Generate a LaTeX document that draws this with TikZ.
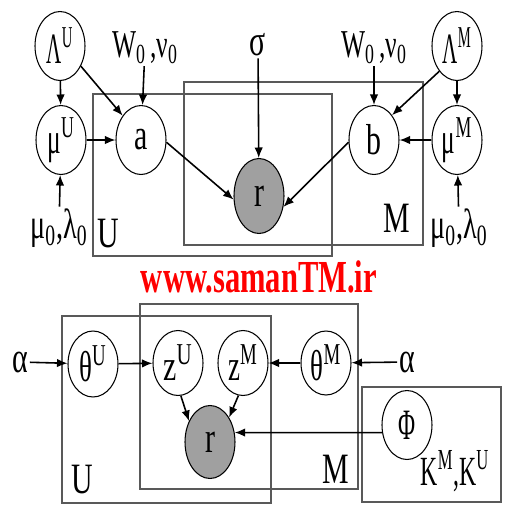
\documentclass[tikz,border=0pt]{standalone}
\usepackage{fontspec}
\setmainfont{Liberation Serif}
\usetikzlibrary{shapes.geometric,arrows.meta,calc}
\definecolor{obsgray}{RGB}{160,160,160}
\newcommand{\stx}[2][1]{\scalebox{#1}[1.45]{#2}}
\newcommand{\stxx}[3]{\scalebox{#1}[#2]{#3}}
\begin{document}
\begin{tikzpicture}[x=0.02cm,y=-0.02cm,
  var/.style={ellipse,draw=black,line width=0.6pt,fill=white,minimum width=10mm,minimum height=13.8mm,inner sep=0pt,font=\fontsize{17}{20}\selectfont},
  obs/.style={var,fill=obsgray,minimum height=15mm},
  lbl/.style={inner sep=1pt,font=\fontsize{17}{20}\selectfont},
  plate/.style={draw=black!65,line width=0.8pt},
  arr/.style={-{Latex[length=2.1mm,width=1.7mm]},line width=0.9pt}]
\useasboundingbox (0,0) rectangle (512,512);
% plates top
\draw[plate] (93,94) rectangle (332,256);
\draw[plate] (184,82) rectangle (423,245);
% plates bottom
\draw[plate] (62,316) rectangle (271,503);
\draw[plate] (140,304) rectangle (358,489);
\draw[plate] (362,387) rectangle (501,502);
% top nodes
\node[var] (LU) at (60,46) {\stxx{0.7}{1.45}{Λ\textsuperscript{U}}};
\node[var] (muU) at (61,140) {\stxx{0.85}{1.45}{μ\textsuperscript{U}}};
\node[var] (a) at (141,140) {\stx{a}};
\node[obs] (rt) at (259,196) {\stx{r}};
\node[var] (b) at (374,140) {\stx{b}};
\node[var] (LM) at (457,46) {\stxx{0.7}{1.45}{Λ\textsuperscript{M}}};
\node[var] (muM) at (457,140) {\stxx{0.85}{1.45}{μ\textsuperscript{M}}};
\node[lbl,font=\fontsize{14.5}{18}\selectfont] (wu) at (145,48) {\stxx{1}{1.55}{W\textsubscript{0}\,,ν\textsubscript{0}}};
\node[lbl,font=\fontsize{14.5}{18}\selectfont] (wm) at (374,48) {\stxx{1}{1.55}{W\textsubscript{0}\,,ν\textsubscript{0}}};
\node[lbl] (sig) at (258,45) {\stx{σ}};
\node[lbl,font=\fontsize{16}{19}\selectfont] (mlU) at (59,228) {\stxx{1}{1.5}{μ\textsubscript{0},λ\textsubscript{0}}};
\node[lbl,font=\fontsize{16}{19}\selectfont] (mlM) at (459,228) {\stxx{1}{1.5}{μ\textsubscript{0},λ\textsubscript{0}}};
\node[lbl] (UT) at (108,234) {\stx{U}};
\node[lbl] (MT) at (397,218) {\stx{M}};
% watermark
\node[inner sep=0pt,text=red,font=\fontsize{17.4}{20}\selectfont\bfseries] (wmk) at (259,277) {\scalebox{1}[1.5]{www.samanTM.ir}};
% bottom nodes
\node[lbl] (aL) at (20,362) {\stx{α}};
\node[var,minimum height=13.2mm] (thU) at (93,364) {\stxx{0.9}{1.45}{θ\textsuperscript{U}}};
\node[var,minimum height=13mm] (zU) at (178,363) {\stx{z\textsuperscript{U}}};
\node[var,minimum height=13mm] (zM) at (243,363) {\stxx{0.9}{1.45}{z\textsuperscript{M}}};
\node[obs,minimum height=14.6mm] (rb) at (210,442) {\stx{r}};
\node[var,minimum height=12.8mm] (thM) at (326,363) {\stxx{0.9}{1.45}{θ\textsuperscript{M}}};
\node[lbl] (aR) at (407,362) {\stx{α}};
\node[var] (phi) at (407,425) {\stxx{0.78}{1.45}{Φ}};
\node[lbl] (UB) at (82,480) {\stx{U}};
\node[lbl] (MB) at (336,469) {\stx{M}};
\node[lbl,font=\fontsize{13.5}{17}\selectfont] (KK) at (455,471) {\stxx{1}{1.75}{K\textsuperscript{M},K\textsuperscript{U}}};
% top arrows
\draw[arr] (LU) -- (muU);
\draw[arr] (LU.-44) -- (a.127);
\draw[arr] (muU) -- (a);
\draw[arr] (wu) -- (a);
\draw[arr] (mlU) -- (muU);
\draw[arr] (a.-5) -- (rt.188);
\draw[arr] (sig) -- (rt);
\draw[arr] (wm) -- (b);
\draw[arr] (LM.235) -- (b.54);
\draw[arr] (muM) -- (b);
\draw[arr] (LM) -- (muM);
\draw[arr] (mlM) -- (muM);
\draw[arr] (b.185) -- (rt.-24);
% bottom arrows
\draw[arr] (aL) -- (thU);
\draw[arr] (thU) -- (zU);
\draw[arr] (thM) -- (zM);
\draw[arr] (aR) -- (thM);
\draw[arr] (zU.-85) -- (rb.135);
\draw[arr] (zM.262) -- (rb.52);
\draw[arr] (phi.197) -- (rb.21);
\end{tikzpicture}
\end{document}
